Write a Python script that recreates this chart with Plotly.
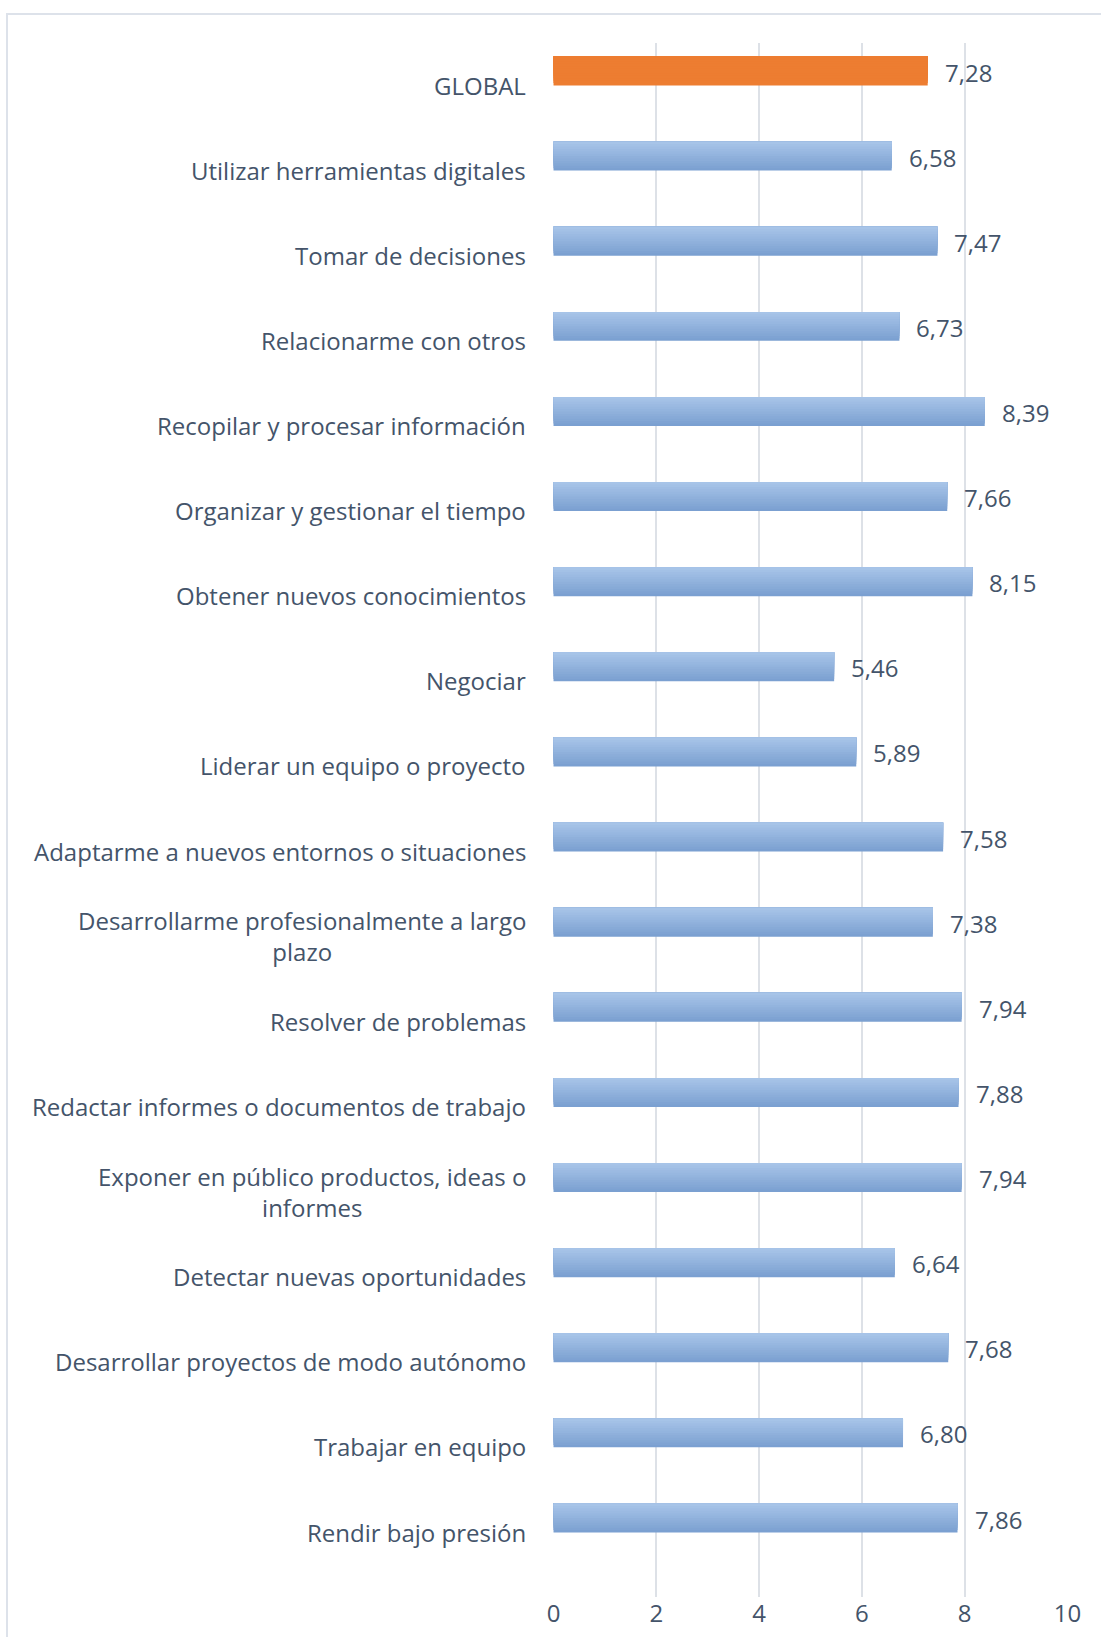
import plotly.graph_objects as go

categories = [
    "GLOBAL",
    "Utilizar herramientas digitales",
    "Tomar de decisiones",
    "Relacionarme con otros",
    "Recopilar y procesar información",
    "Organizar y gestionar el tiempo",
    "Obtener nuevos conocimientos",
    "Negociar",
    "Liderar un equipo o proyecto",
    "Adaptarme a nuevos entornos o situaciones",
    "Desarrollarme profesionalmente a largo<br>plazo",
    "Resolver de problemas",
    "Redactar informes o documentos de trabajo",
    "Exponer en público productos, ideas o<br>informes",
    "Detectar nuevas oportunidades",
    "Desarrollar proyectos de modo autónomo",
    "Trabajar en equipo",
    "Rendir bajo presión",
]
values = [7.28, 6.58, 7.47, 6.73, 8.39, 7.66, 8.15, 5.46, 5.89, 7.58,
          7.38, 7.94, 7.88, 7.94, 6.64, 7.68, 6.80, 7.86]
value_labels = ["7,28", "6,58", "7,47", "6,73", "8,39", "7,66", "8,15", "5,46", "5,89",
                "7,58", "7,38", "7,94", "7,88", "7,94", "6,64", "7,68", "6,80", "7,86"]
x_ticks = [0, 2, 4, 6, 8, 10]

FONT = "Open Sans"
TEXT = "#44546a"
SIZE = 24
ORANGE = "#ed7d31"
BLUE_TOP = (167, 196, 232)
BLUE_BOT = (123, 160, 209)

fig = go.Figure()
N = 12
W = 0.34
for k in range(N):
    t = k / (N - 1)
    c = tuple(round(BLUE_BOT[i] + (BLUE_TOP[i] - BLUE_BOT[i]) * t) for i in range(3))
    col = "rgb(%d,%d,%d)" % c
    colors = [ORANGE if cat == "GLOBAL" else col for cat in categories]
    fig.add_trace(go.Bar(
        y=categories, x=values, orientation="h",
        width=W * (N - k) / N, offset=-W / 2,
        marker=dict(color=colors, line=dict(width=0)),
        hoverinfo="skip", showlegend=False,
    ))

annotations = []
for cat, v, lab in zip(categories, values, value_labels):
    annotations.append(dict(
        x=0, y=cat, xref="x", yref="y", text=cat, showarrow=False,
        xanchor="right", yanchor="middle", align="center", xshift=-26, yshift=-14,
        font=dict(family=FONT, size=SIZE, color=TEXT),
    ))
    annotations.append(dict(
        x=v, y=cat, xref="x", yref="y", text=lab, showarrow=False,
        xanchor="left", yanchor="middle", xshift=15, yshift=-1,
        font=dict(family=FONT, size=SIZE, color=TEXT),
    ))

fig.update_layout(
    width=1101, height=1637,
    margin=dict(l=553, r=33, t=43, b=40),
    paper_bgcolor="white", plot_bgcolor="white",
    barmode="overlay",
    annotations=annotations,
    font=dict(family=FONT, size=SIZE, color=TEXT),
    shapes=[dict(type="rect", xref="paper", yref="paper",
                 x0=(7 - 553) / 515, x1=2, y0=-1, y1=1 + 29 / 1554,
                 line=dict(color="#dde2ea", width=2), layer="below")],
)
fig.update_xaxes(range=[-0.01, 10.01], tickvals=x_ticks, ticktext=[str(t) for t in x_ticks],
                 showgrid=True, gridcolor="#dde1e7", gridwidth=2, zeroline=False,
                 showline=False, ticks="", fixedrange=True, automargin=False,
                 tickfont=dict(family=FONT, size=SIZE, color=TEXT))
fig.update_yaxes(categoryorder="array", categoryarray=categories,
                 range=[17.928, -0.329], showticklabels=False, showgrid=False,
                 zeroline=False, showline=False, ticks="", fixedrange=True, automargin=False)

fig.write_html("out.html", config={"displayModeBar": False},
               post_script="document.body.style.margin='0';document.body.style.overflow='hidden';")
